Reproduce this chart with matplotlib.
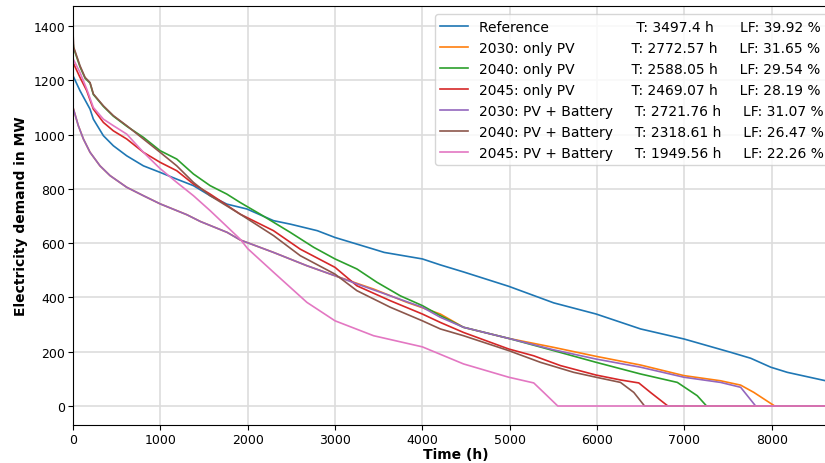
import matplotlib
matplotlib.use("Agg")
import matplotlib.pyplot as plt
from matplotlib.textpath import TextPath
from matplotlib.font_manager import FontProperties

#%% Load duration curves (hours, MW)
ref_h = [0, 80, 195, 233, 348, 462, 615, 806, 997, 1188, 1379, 1570, 1761, 1991, 2296,
         2491, 2798, 3000, 3442, 3563, 4000, 4206, 4472, 4990, 5505, 5990, 6499, 6996,
         7530, 7760, 7990, 8180, 8619, 8760]
ref_mw = [1217, 1162, 1094, 1057, 996, 959, 922, 885, 861, 836, 812, 775, 744, 726, 683,
          670, 646, 621, 578, 566, 542, 520, 494, 441, 380, 339, 284, 247,
          198, 176, 143, 124, 93, 85]

pv30_h = [0, 61, 119, 195, 309, 424, 615, 806, 997, 1303, 1458, 1764, 1914, 2296, 2678,
          3000, 3251, 3442, 3824, 4206, 4472, 4990, 5505, 5990, 6499, 6996, 7415, 7645,
          7797, 8035, 8760]
pv30_mw = [1100, 1033, 984, 935, 885, 849, 806, 775, 745, 705, 680, 640, 612, 566, 517,
           480, 452, 431, 382, 339, 290, 249, 216, 183, 151, 112, 93, 77,
           50, 0, 0]

pv40_h = [0, 8, 80, 138, 195, 233, 348, 462, 615, 806, 997, 1188, 1379, 1570, 1761,
          1914, 2143, 2487, 2755, 3000, 3251, 3480, 3748, 4000, 4206, 4472, 4990, 5505,
          5990, 6499, 6920, 7148, 7255, 8760]
pv40_mw = [1340, 1318, 1250, 1208, 1190, 1148, 1104, 1068, 1031, 990, 941, 910, 855, 812, 781,
           750, 707, 640, 585, 542, 505, 456, 406, 370, 333, 290, 249, 204,
           161, 118, 87, 38, 0, 0]

pv45_h = [0, 80, 157, 233, 348, 462, 615, 806, 997, 1188, 1379, 1570, 1914, 2296, 2602,
          3000, 3251, 3633, 4000, 4206, 4472, 4990, 5276, 5581, 5990, 6269, 6479, 6613,
          6812, 8760]
pv45_mw = [1266, 1211, 1162, 1094, 1045, 1014, 984, 935, 898, 867, 818, 781, 707, 646, 578,
           511, 443, 388, 339, 308, 271, 210, 185, 149, 114, 96, 85, 50,
           0, 0]

bat30_h = [0, 61, 119, 195, 309, 424, 615, 806, 997, 1303, 1458, 1764, 1914, 2296, 2678,
           3000, 3251, 3633, 4000, 4206, 4472, 4990, 5505, 5990, 6499, 6996, 7415, 7645,
           7817, 8760]
bat30_mw = [1100, 1033, 984, 935, 885, 849, 806, 775, 745, 705, 680, 640, 612, 566, 517,
            480, 450, 406, 364, 327, 290, 249, 207, 173, 143, 106, 87, 69,
            0, 0]

bat40_h = [0, 8, 80, 138, 195, 233, 348, 462, 615, 806, 997, 1188, 1379, 1570, 1914,
           2296, 2602, 3000, 3251, 3633, 4000, 4206, 4472, 4990, 5352, 5734, 5990, 6269,
           6422, 6545, 8760]
bat40_mw = [1377, 1322, 1254, 1211, 1192, 1150, 1106, 1070, 1033, 984, 935, 885, 824, 775, 707,
            628, 554, 486, 425, 364, 314, 284, 259, 204, 161, 124, 106, 87,
            50, 0, 0]

bat45_h = [0, 80, 157, 233, 348, 462, 615, 806, 997, 1188, 1379, 1570, 1914, 2000, 2296,
           2678, 3000, 3442, 4000, 4472, 4990, 5276, 5390, 5551, 8760]
bat45_mw = [1280, 1229, 1168, 1100, 1057, 1033, 1002, 935, 875, 824, 775, 720, 615, 580, 493,
            382, 314, 259, 218, 155, 106, 85, 50, 0, 0]

names = ['Reference', '2030: only PV', '2040: only PV', '2045: only PV',
         '2030: PV + Battery', '2040: PV + Battery', '2045: PV + Battery']
t_vals = ['3497.4', '2772.57', '2588.05', '2469.07', '2721.76', '2318.61', '1949.56']
lf_vals = ['39.92', '31.65', '29.54', '28.19', '31.07', '26.47', '22.26']

series = [(ref_h, ref_mw), (pv30_h, pv30_mw), (pv40_h, pv40_mw), (pv45_h, pv45_mw),
          (bat30_h, bat30_mw), (bat40_h, bat40_mw), (bat45_h, bat45_mw)]

#%% Build legend labels, padded with spaces into columns
fp = FontProperties(family='DejaVu Sans', size=10)
space = 3.18

def width(s):
    return TextPath((0, 0), s, prop=fp).get_extents().width

labels = []
for name, t, lf in zip(names, t_vals, lf_vals):
    lab = name + ' ' * max(1, round((111 - width(name)) / space))
    lab += f'T: {t} h'
    lab += ' ' * max(1, round((188 - width(lab)) / space))
    lab += f'LF: {lf} %'
    labels.append(lab)

#%% Plot
fig = plt.figure(figsize=(8.25, 4.64), dpi=100)
ax = fig.add_axes([73 / 825, 38 / 464, 765 / 825, 419 / 464])

for (h, mw), lab in zip(series, labels):
    ax.plot(h, mw, lw=1.2, label=lab)

ax.set_xlim(0, 8760)
ax.set_ylim(-70, 1474)
ax.set_xticks(range(0, 9000, 1000))
ax.set_yticks(range(0, 1401, 200))
ax.grid(True, color='#dddddd', lw=1.2)
ax.set_axisbelow(True)
ax.tick_params(labelsize=9, pad=2)
ax.set_xlabel('Time (h)', fontweight='bold', fontsize=10, labelpad=1)
ax.set_ylabel('Electricity demand in MW', fontweight='bold', fontsize=10, labelpad=4)
ax.legend(loc='upper right', fontsize=10, borderaxespad=0.6)

fig.savefig('out.png', dpi=100)
